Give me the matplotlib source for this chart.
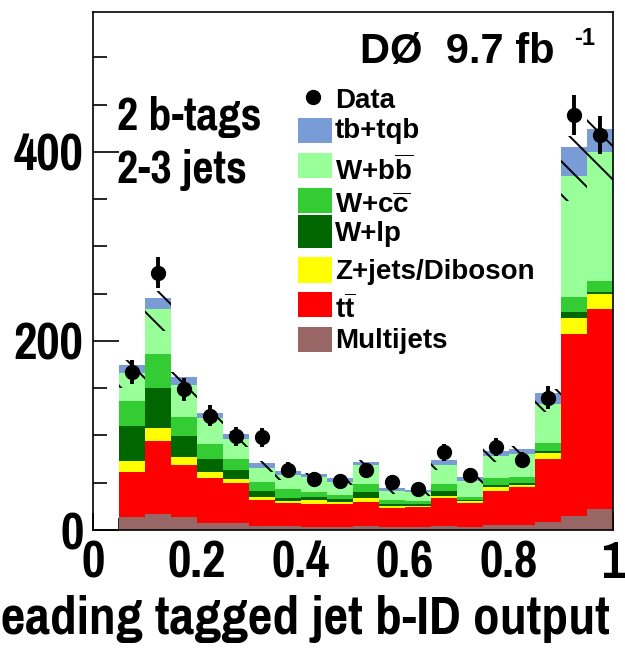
import numpy as np
import matplotlib
matplotlib.use("Agg")
import matplotlib.pyplot as plt
from matplotlib import font_manager
from matplotlib.patches import Rectangle
from matplotlib.lines import Line2D

# -- Binning: leading tagged jet b-ID output -----------------------------
bin_lo = [0.05, 0.10, 0.15, 0.20, 0.25, 0.30, 0.35, 0.40, 0.45, 0.50,
          0.55, 0.60, 0.65, 0.70, 0.75, 0.80, 0.85, 0.90, 0.95]
bin_width = 0.05

# -- Observed events -----------------------------------------------------
data = [167, 272, 149, 121, 99, 98, 64, 54, 52, 63,
        51, 43, 82, 58, 88, 74, 140, 439, 418]

# -- Predicted yields, stacked bottom to top ------------------------------
multijets = [14, 17, 14, 7, 7, 4, 4, 3, 3, 4, 3, 3, 4, 3, 5, 5, 8, 15, 22]
ttbar = [47, 77, 55, 48, 43, 28, 25, 25, 24, 26, 20, 21, 30, 26, 36, 40, 67, 192, 212]
zjets_diboson = [12, 14, 8, 6, 4, 3, 2, 4, 3, 4, 2, 1, 2, 2, 4, 3, 6, 17, 16]
w_lp = [37, 42, 22, 14, 10, 6, 3, 3, 3, 6, 3, 3, 5, 1, 3, 2, 3, 7, 2]
w_cc = [27, 36, 21, 16, 11, 10, 9, 5, 4, 9, 4, 3, 8, 3, 7, 6, 8, 16, 11]
w_bb = [29, 48, 33, 27, 21, 15, 15, 16, 14, 20, 9, 9, 20, 17, 23, 24, 41, 127, 137]
single_top = [9, 11, 9, 6, 6, 5, 4, 3, 4, 3, 3, 2, 5, 4, 6, 6, 12, 31, 24]

# relative systematic band on the total prediction
syst_down = 0.14
syst_up = 0.03

samples = [
    ("Multijets", multijets, "#996666"),
    ("t$\\overline{\\mathbf{t}}$", ttbar, "#ff0000"),
    ("Z+jets/Diboson", zjets_diboson, "#ffff00"),
    ("W+lp", w_lp, "#006600"),
    ("W+c$\\overline{\\mathbf{c}}$", w_cc, "#33cc33"),
    ("W+b$\\overline{\\mathbf{b}}$", w_bb, "#99ff99"),
    ("tb+tqb", single_top, "#7a9cd6"),
]

# -- Fonts -----------------------------------------------------------------
installed = {f.name for f in font_manager.fontManager.ttflist}
NARROW = next((n for n in ["Pragati Narrow", "Roboto Condensed", "PT Sans Narrow"]
               if n in installed), "Liberation Sans")
WIDE = "Liberation Sans"
plt.rcParams["font.family"] = [NARROW, "DejaVu Sans"]
plt.rcParams["font.weight"] = "bold"
plt.rcParams["mathtext.fontset"] = "custom"
plt.rcParams["mathtext.rm"] = f"{WIDE}:bold"
plt.rcParams["mathtext.bf"] = f"{WIDE}:bold"
plt.rcParams["hatch.linewidth"] = 1.4

W, H = 625, 651
fig = plt.figure(figsize=(W / 100, H / 100), dpi=100)
ax = fig.add_axes([93 / W, 1 - 530 / H, 520 / W, 518 / H])


def fpx(x, y):
    """pixel position (from top-left) -> figure fraction"""
    return x / W, 1 - y / H


centers = np.array(bin_lo) + bin_width / 2

# -- Stacked prediction --------------------------------------------------
bottom = np.zeros(len(bin_lo))
for name, vals, color in samples:
    ax.bar(centers, vals, width=bin_width, bottom=bottom, color=color,
           linewidth=0, zorder=2)
    bottom = bottom + np.array(vals)
total = bottom

# systematic uncertainty band
lo = total * (1 - syst_down)
hi = total * (1 + syst_up)
ax.bar(centers, hi - lo, width=bin_width, bottom=lo, fill=False,
       hatch="\\", edgecolor="black", linewidth=0, zorder=3)

# -- Data ------------------------------------------------------------------
ax.errorbar(centers, data, yerr=np.sqrt(data), fmt="o", color="black",
            ms=10, elinewidth=2.8, capsize=0, zorder=5)

# -- Axes ------------------------------------------------------------------
ax.set_xlim(0, 1)
ax.set_ylim(0, 548)
ax.set_xticks([0, 0.2, 0.4, 0.6, 0.8, 1.0])
ax.set_xticklabels(["0", "0.2", "0.4", "0.6", "0.8", "1"])
ax.set_xticks(np.arange(0, 1.0001, 0.05), minor=True)
ax.set_yticks([0, 200, 400])
ax.set_yticks(np.arange(0, 548, 50), minor=True)
ax.tick_params(which="both", direction="in", width=1.2, labelsize=40,
               top=False, right=False, zorder=6)
ax.tick_params(axis="y", which="major", length=19, pad=7)
ax.tick_params(axis="y", which="minor", length=10)
ax.tick_params(axis="x", which="major", length=12, pad=7)
ax.tick_params(axis="x", which="minor", length=9)
for lbl in ax.get_xticklabels() + ax.get_yticklabels():
    lbl.set_fontweight("bold")
for sp in ax.spines.values():
    sp.set_linewidth(1.2)
    sp.set_zorder(7)

fig.text(*fpx(610, 634), "Leading tagged jet b-ID output", ha="right",
         va="baseline", fontsize=42, fontweight="bold")

# -- Labels ------------------------------------------------------------------
fig.text(*fpx(360, 63), "DØ  9.7 fb", ha="left", va="baseline",
         fontsize=30, fontweight="bold", family=WIDE)
fig.text(*fpx(574, 45), "-1", ha="left", va="baseline",
         fontsize=17, fontweight="bold", family=WIDE)
fig.text(*fpx(117, 130), "2 b-tags", ha="left", va="baseline",
         fontsize=36, fontweight="bold")
fig.text(*fpx(117, 183), "2-3 jets", ha="left", va="baseline",
         fontsize=36, fontweight="bold")

# -- Legend ------------------------------------------------------------------
fig.add_artist(Line2D([313 / W], [1 - 97 / H], marker="o", ms=10,
                      color="black", transform=fig.transFigure))
fig.text(*fpx(335, 108), "Data", ha="left", va="baseline",
         fontsize=20, fontweight="bold", family=WIDE)

legend_rows = [  # (sample index, box top, box bottom, text baseline)
    (6, 118, 143, 138),
    (5, 153, 178, 180),
    (4, 188, 213, 213),
    (3, 215, 248, 241),
    (2, 257, 283, 279),
    (1, 292, 317, 318),
    (0, 327, 352, 348),
]
for idx, top, bot, base in legend_rows:
    name, _, color = samples[idx]
    x0, y0 = fpx(298, bot)
    fig.add_artist(Rectangle((x0, y0), 34 / W, (bot - top) / H,
                             facecolor=color, edgecolor="none",
                             transform=fig.transFigure))
    fig.text(*fpx(335, base), name, ha="left", va="baseline",
             fontsize=20, fontweight="bold", family=WIDE)

fig.savefig("out.png", dpi=100)
